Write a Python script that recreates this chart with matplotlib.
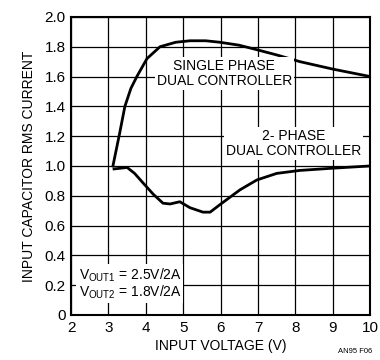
import matplotlib
matplotlib.use("Agg")
import matplotlib.pyplot as plt

plt.rcParams['font.family'] = ['Liberation Sans Narrow', 'Liberation Sans', 'DejaVu Sans']
plt.rcParams['mathtext.default'] = 'regular'

# single phase dual controller
sp_v = [3.12, 3.3, 3.44, 3.6, 3.76, 4.03, 4.38, 4.8, 5.18, 5.6, 5.98, 6.5, 6.97, 7.5, 8.12, 9.0, 10.0]
sp_i = [1.00, 1.22, 1.40, 1.52, 1.60, 1.72, 1.80, 1.83, 1.84, 1.84, 1.83, 1.81, 1.78, 1.745, 1.70, 1.65, 1.60]

# 2-phase dual controller
tp_v = [3.15, 3.5, 3.7, 3.93, 4.2, 4.46, 4.65, 4.91, 5.18, 5.53, 5.72, 5.98, 6.52, 6.97, 7.5, 8.12, 9.0, 10.0]
tp_i = [0.98, 0.99, 0.95, 0.885, 0.81, 0.75, 0.745, 0.76, 0.72, 0.69, 0.69, 0.74, 0.84, 0.906, 0.95, 0.97, 0.985, 1.00]

xticks = [2, 3, 4, 5, 6, 7, 8, 9, 10]
yticks = [0, 0.2, 0.4, 0.6, 0.8, 1.0, 1.2, 1.4, 1.6, 1.8, 2.0]
ylabels = ['0', '0.2', '0.4', '0.6', '0.8', '1.0', '1.2', '1.4', '1.6', '1.8', '2.0']

fig = plt.figure(figsize=(3.8, 3.6), dpi=100)
ax = fig.add_axes([0.187, 0.125, 0.787, 0.828])

ax.plot(sp_v, sp_i, color='black', lw=2, zorder=3)
ax.plot(tp_v, tp_i, color='black', lw=2, zorder=3)

ax.set_xlim(2, 10)
ax.set_ylim(0, 2.0)
ax.set_xticks(xticks)
ax.set_yticks(yticks)
ax.set_yticklabels(ylabels)
ax.grid(True, color='black', lw=0.9)
ax.tick_params(length=0, labelsize=11, pad=4)
for s in ax.spines.values():
    s.set_linewidth(1.5)

box = dict(facecolor='white', edgecolor='none', pad=1.5)
ax.text(6.1, 1.62, 'SINGLE PHASE\nDUAL CONTROLLER', ha='center', va='center',
        fontsize=10, linespacing=1.1, bbox=box, zorder=4)
ax.text(7.95, 1.15, '2- PHASE\nDUAL CONTROLLER', ha='center', va='center',
        fontsize=10, linespacing=1.1, bbox=box, zorder=4)
ax.text(2.2, 0.21, 'V$_{OUT1}$ = 2.5V/2A\nV$_{OUT2}$ = 1.8V/2A', ha='left', va='center',
        fontsize=10, linespacing=1.0, bbox=box, zorder=4)

ax.set_xlabel('INPUT VOLTAGE (V)', fontsize=10, labelpad=3)
ax.set_ylabel('INPUT CAPACITOR RMS CURRENT', fontsize=10, labelpad=6)
fig.text(0.935, 0.02, 'AN95 F06', fontsize=5.5, ha='center')

fig.savefig('out.png', dpi=100)
